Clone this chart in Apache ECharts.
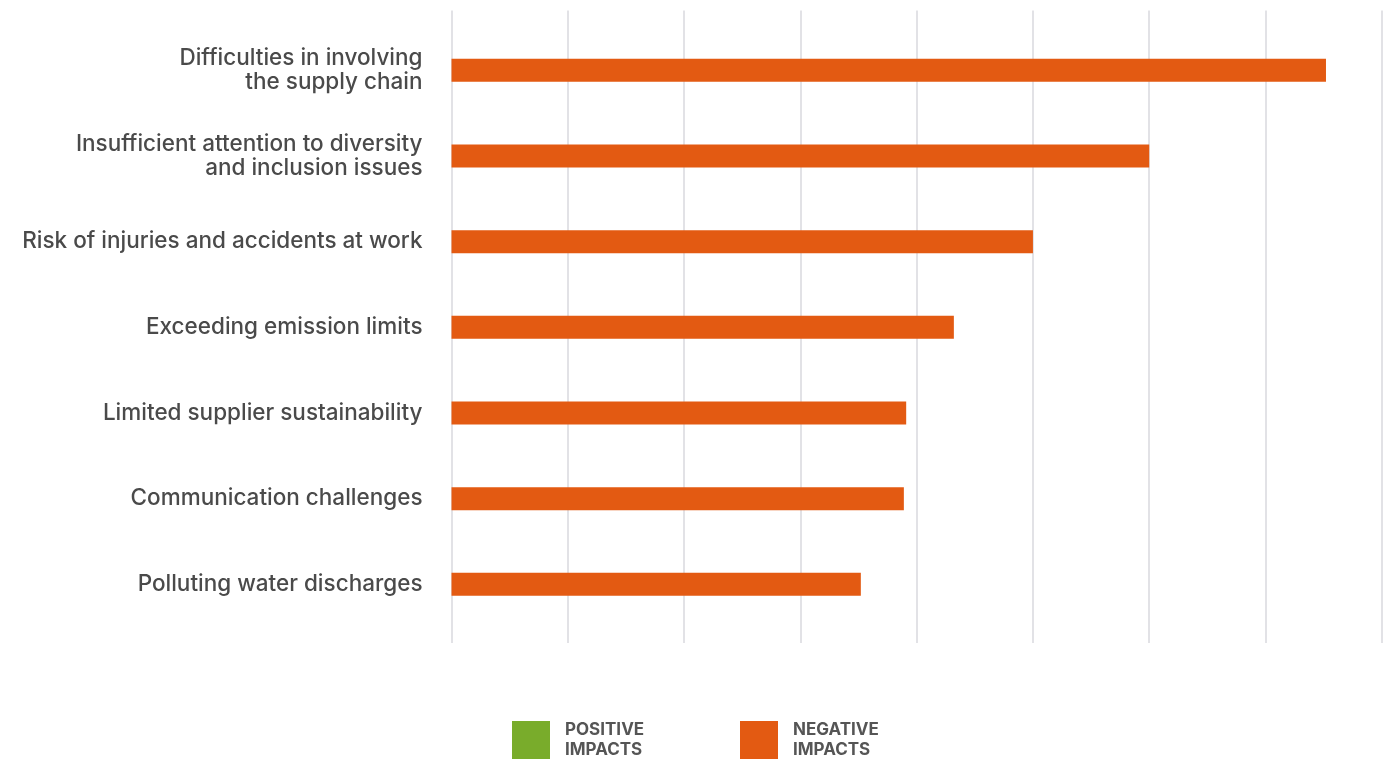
<!DOCTYPE html>
<html>
<head>
<meta charset="utf-8">
<script src="https://cdn.jsdelivr.net/npm/echarts@6/dist/echarts.min.js"></script>
<style>
  html, body { margin: 0; padding: 0; background: #ffffff; }
  #chart { width: 1397px; height: 761px; }
</style>
</head>
<body>
<div id="chart"></div>
<script>
// Impact categories, top to bottom
const categories = [
  'Difficulties in involving\nthe supply chain',
  'Insufficient attention to diversity\nand inclusion issues',
  'Risk of injuries and accidents at work',
  'Exceeding emission limits',
  'Limited supplier sustainability',
  'Communication challenges',
  'Polluting water discharges'
];
// Scores per category
const negativeValues = [7.52, 6.0, 5.0, 4.32, 3.91, 3.89, 3.52];
const positiveValues = [];
// Value axis ticks (unlabelled)
const axisMin = 0;
const axisMax = 8;
const axisStep = 1;

const ORANGE = '#e35a12';
const GREEN = '#79ac2b';
const TEXT = '#4a4a4a';
const LEGEND_TEXT = '#555555';

const chart = echarts.init(document.getElementById('chart'), null, { renderer: 'canvas' });

const legendText = {
  color: LEGEND_TEXT,
  fontFamily: 'Inter',
  fontWeight: 'bold',
  fontSize: 17,
  lineHeight: 20,
  padding: [0, 0, 0, 10]
};

function legendFor(name, left) {
  return {
    data: [name],
    left: left, top: 720,
    padding: 0,
    itemWidth: 38, itemHeight: 38,
    icon: 'rect',
    formatter: n => n.replace(' ', '\n'),
    textStyle: legendText,
    selectedMode: false
  };
}

chart.setOption({
  animation: false,
  backgroundColor: '#ffffff',
  grid: [
    // bars
    { left: 451.5, right: 15.2, top: 27.5, height: 599.7, containLabel: false },
    // vertical guide lines, a little taller than the bar area
    { left: 451.5, right: 15.2, top: 10.5, height: 632.5, containLabel: false }
  ],
  legend: [
    legendFor('POSITIVE IMPACTS', 512),
    legendFor('NEGATIVE IMPACTS', 740)
  ],
  xAxis: [
    {
      type: 'value', gridIndex: 0,
      min: axisMin, max: axisMax, interval: axisStep,
      axisLine: { show: false }, axisTick: { show: false },
      axisLabel: { show: false }, splitLine: { show: false }
    },
    {
      type: 'value', gridIndex: 1,
      min: axisMin, max: axisMax, interval: axisStep,
      axisLine: { show: false }, axisTick: { show: false },
      axisLabel: { show: false },
      splitLine: { show: true, lineStyle: { color: '#d9d9de', width: 1.5 } }
    }
  ],
  yAxis: [
    {
      type: 'category', gridIndex: 0,
      data: categories,
      inverse: true,
      axisLine: { show: false }, axisTick: { show: false },
      axisLabel: {
        margin: 29,
        color: TEXT,
        fontFamily: 'Inter',
        fontWeight: 500,
        fontSize: 22.5,
        lineHeight: 24,
        align: 'right'
      }
    },
    {
      type: 'value', gridIndex: 1,
      show: false
    }
  ],
  series: [
    {
      name: 'POSITIVE IMPACTS',
      type: 'bar',
      xAxisIndex: 0, yAxisIndex: 0,
      data: positiveValues,
      itemStyle: { color: GREEN },
      barWidth: 23
    },
    {
      name: 'NEGATIVE IMPACTS',
      type: 'bar',
      xAxisIndex: 0, yAxisIndex: 0,
      data: negativeValues,
      itemStyle: { color: ORANGE },
      barWidth: 23,
      barGap: '-100%',
      z: 3
    }
  ]
});
</script>
</body>
</html>
